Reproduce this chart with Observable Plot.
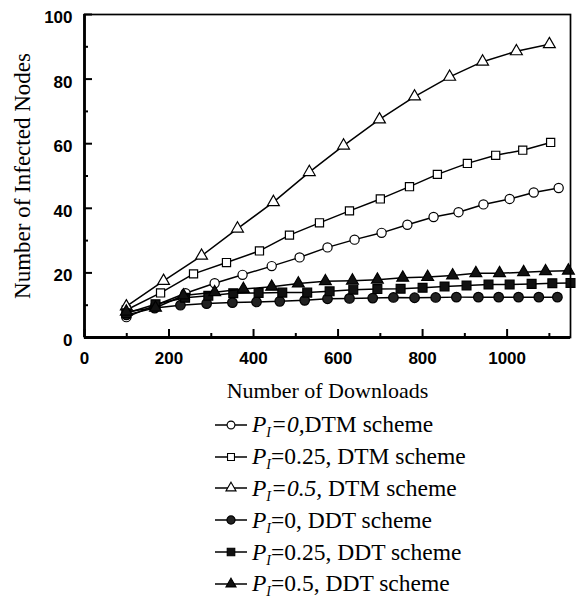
<!DOCTYPE html>
<html><head><meta charset="utf-8">
<script src="https://cdn.jsdelivr.net/npm/d3@7"></script>
<script src="https://cdn.jsdelivr.net/npm/@observablehq/plot@0.6"></script>
<style>
body{margin:0;background:#fff;}
#wrap{width:582px;background:#fff;}
.legend{font-family:"Liberation Serif","Times New Roman",serif;font-size:23.5px;color:#000;padding-top:4px;}
.row{height:31.8px;display:flex;align-items:center;padding-left:214px;white-space:nowrap;}
.row svg{margin-right:4px;flex:none;}
.row sub{font-style:italic;font-size:0.6em;vertical-align:-0.35em;line-height:0;}
</style></head><body><div id="wrap"></div>
<script>
// Number of downloads (x) and number of infected nodes (y), per series
const dtm0X  = [99,168,239,308,374,443,509,575,639,703,764,826,885,944,1006,1063,1122];
const dtm0Y  = [6.3,10.0,13.7,16.8,19.4,22.1,24.8,27.9,30.3,32.4,34.9,37.3,38.8,41.2,42.9,44.9,46.3];
const dtm25X = [99,180,258,336,414,485,556,627,700,769,835,906,973,1037,1103];
const dtm25Y = [8.5,13.8,19.7,23.2,26.8,31.7,35.5,39.2,42.9,46.7,50.5,53.9,56.4,58.0,60.4];
const dtm5X  = [99,187,277,362,447,532,613,698,781,864,942,1022,1100];
const dtm5Y  = [9.6,17.5,25.3,33.7,41.9,51.2,59.4,67.5,74.6,80.7,85.4,88.6,90.8];
const ddt0X  = [99,166,227,289,350,407,462,521,575,627,682,731,781,831,880,932,980,1027,1075,1119];
const ddt0Y  = [7.0,9.1,10.0,10.5,10.8,11.0,11.2,11.5,12.0,12.1,12.2,12.4,12.3,12.4,12.5,12.5,12.5,12.5,12.5,12.5];
const ddt25X = [99,168,238,293,352,412,468,527,580,636,693,748,800,852,904,956,1006,1058,1107,1150];
const ddt25Y = [7.5,10.3,12.3,12.9,13.7,13.8,13.9,13.9,14.3,14.8,15.0,15.1,15.4,15.8,16.1,16.4,16.4,16.6,16.8,16.9];
const ddt5X  = [99,168,234,308,376,443,506,570,634,693,753,812,871,926,982,1039,1091,1145];
const ddt5Y  = [8.0,9.2,13.0,14.0,15.0,15.7,16.7,17.4,17.6,17.9,18.5,18.7,19.2,19.9,19.9,20.2,20.5,20.7];

const legendLabels = [
  '<i>P</i><sub>I</sub><i>=0,</i>DTM scheme',
  '<i>P</i><sub>I</sub>=0.25, DTM scheme',
  '<i>P</i><sub>I</sub><i>=0.5,</i> DTM scheme',
  '<i>P</i><sub>I</sub>=0, DDT scheme',
  '<i>P</i><sub>I</sub>=0.25, DDT scheme',
  '<i>P</i><sub>I</sub>=0.5, DDT scheme'
];
const xMajor = [0,200,400,600,800,1000];
const xMinor = [100,300,500,700,900,1100];
const yMajor = [0,20,40,60,80,100];
const yMinor = [10,30,50,70,90];

const series = [
  {xs:dtm0X, ys:dtm0Y, symbol:"circle", fill:"white", r:4.6},
  {xs:dtm25X, ys:dtm25Y, symbol:"square", fill:"white", r:4.6},
  {xs:dtm5X, ys:dtm5Y, symbol:"triangle", fill:"white", r:4.4},
  {xs:ddt0X, ys:ddt0Y, symbol:"circle", fill:"#222", r:4.8},
  {xs:ddt25X, ys:ddt25Y, symbol:"square", fill:"#111", r:5.0},
  {xs:ddt5X, ys:ddt5Y, symbol:"triangle", fill:"#111", r:4.4}
];

const serifFont = "'Liberation Serif','Times New Roman',serif";
const sansFont = "'Liberation Sans',Arial,sans-serif";
const fmt = d => String(d);

const marks = [];
for (const s of series) {
  const data = s.xs.map((x, i) => ({x, y: s.ys[i]}));
  marks.push(Plot.line(data, {x:"x", y:"y", stroke:"black", strokeWidth:1.5}));
  marks.push(Plot.dot(data, {x:"x", y:"y", symbol:s.symbol, r:s.r, fill:s.fill, stroke:"black", strokeWidth:1.2}));
}

const chart = Plot.plot({
  width: 582, height: 405,
  marginLeft: 84, marginRight: 12, marginTop: 14, marginBottom: 68,
  x: {domain:[0,1150]},
  y: {domain:[0,100]},
  style: {background:"white", overflow:"visible"},
  marks: [
    ...marks,
    Plot.frame({stroke:"black", strokeWidth:1.7}),
    Plot.ruleX([0], {stroke:"black", strokeWidth:2.8}),
    Plot.ruleY([0], {stroke:"black", strokeWidth:2.8}),
    Plot.axisX(xMajor, {tickSize:-8, tickPadding:22, strokeWidth:2, fontSize:17, fontWeight:"bold", fontFamily:sansFont, label:null, tickFormat:fmt}),
    Plot.axisX(xMinor, {tickSize:-4, strokeWidth:2, tickFormat:() => "", label:null}),
    Plot.axisY(yMajor, {tickSize:-8, tickPadding:20, strokeWidth:2, fontSize:17, fontWeight:"bold", fontFamily:sansFont, label:null, tickFormat:() => ""}),
    Plot.axisY(yMajor, {tickSize:0, tickPadding:12, dy:3, fontSize:17, fontWeight:"bold", fontFamily:sansFont, label:null, tickFormat:fmt}),
    Plot.axisY(yMinor, {tickSize:-4, strokeWidth:2, tickFormat:() => "", label:null}),
    Plot.text(["Number of Downloads"], {frameAnchor:"bottom", dy:60, fontSize:22, fontFamily:serifFont, fill:"black", textAnchor:"middle"}),
    Plot.text(["Number of Infected Nodes"], {frameAnchor:"left", dx:-62, rotate:-90, textAnchor:"middle", fontSize:23, fontFamily:serifFont, fill:"black"})
  ]
});

const wrap = document.getElementById("wrap");
wrap.appendChild(chart);

const legend = document.createElement("div");
legend.className = "legend";
series.forEach((s, i) => {
  const row = document.createElement("div");
  row.className = "row";
  const svg = d3.create("svg").attr("width", 34).attr("height", 18);
  svg.append("line").attr("x1", 1).attr("x2", 33).attr("y1", 9).attr("y2", 9).attr("stroke", "black").attr("stroke-width", 1.5);
  const symType = s.symbol === "circle" ? d3.symbolCircle : s.symbol === "square" ? d3.symbolSquare : d3.symbolTriangle;
  const rr = s.r * 0.85;
  svg.append("path").attr("transform", "translate(17,9)")
    .attr("d", d3.symbol(symType, Math.PI * rr * rr)())
    .attr("fill", s.fill).attr("stroke", "black").attr("stroke-width", 1.1);
  row.appendChild(svg.node());
  const span = document.createElement("span");
  span.innerHTML = legendLabels[i];
  row.appendChild(span);
  legend.appendChild(row);
});
wrap.appendChild(legend);
</script>
</body></html>
